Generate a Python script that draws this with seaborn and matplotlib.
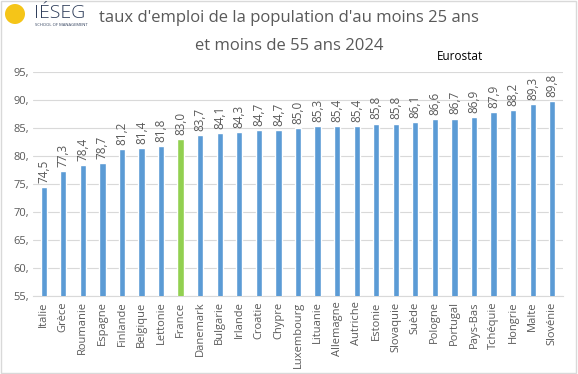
import matplotlib
matplotlib.use("Agg")
import matplotlib.pyplot as plt
import seaborn as sns
from matplotlib.patches import Ellipse, Rectangle

# data
countries = ["Italie", "Grèce", "Roumanie", "Espagne", "Finlande", "Belgique", "Lettonie",
             "France", "Danemark", "Bulgarie", "Irlande", "Croatie", "Chypre", "Luxembourg",
             "Lituanie", "Allemagne", "Autriche", "Estonie", "Slovaquie", "Suède", "Pologne",
             "Portugal", "Pays-Bas", "Tchéquie", "Hongrie", "Malte", "Slovénie"]
values = [74.5, 77.3, 78.4, 78.7, 81.2, 81.4, 81.8, 83.0, 83.7, 84.1, 84.3, 84.7, 84.7, 85.0,
          85.3, 85.4, 85.4, 85.8, 85.8, 86.1, 86.6, 86.7, 86.9, 87.9, 88.2, 89.3, 89.8]
yticks = [55, 60, 65, 70, 75, 80, 85, 90, 95]

blue = "#5B9BD5"
green = "#92D050"
grey = "#595959"

sns.set_style("white")
plt.rcParams["font.family"] = ["Open Sans", "DejaVu Sans"]

fig = plt.figure(figsize=(5.78, 3.74), dpi=100)
ax = fig.add_axes([0.057, 0.209, 0.917, 0.598])

colors = [green if c == "France" else blue for c in countries]
sns.barplot(x=countries, y=values, hue=countries, palette=colors, legend=False,
            width=0.32, saturation=1, ax=ax, zorder=3)

for cont in ax.containers:
    ax.bar_label(cont, labels=[f"{v:.1f}".replace(".", ",") for v in cont.datavalues],
                 rotation=90, padding=3, fontsize=8.5, color=grey)

ax.set_ylim(55, 95)
ax.set_xlim(-0.55, len(countries) - 0.45)
ax.set_yticks(yticks)
ax.set_yticklabels([f"{t}," for t in yticks], fontsize=8, color=grey)
ax.tick_params(axis="x", rotation=90, labelsize=8, labelcolor=grey, length=0, pad=4)
ax.tick_params(axis="y", length=0, pad=3)
ax.grid(axis="y", color="#D9D9D9", linewidth=0.8, zorder=0)
for s in ["top", "right", "left"]:
    ax.spines[s].set_visible(False)
ax.spines["bottom"].set_color("#D9D9D9")

# title and source
fig.text(0.50, 0.952, "taux d'emploi de la population d'au moins 25 ans",
         ha="center", va="center", fontsize=12, color=grey)
fig.text(0.50, 0.877, "et moins de 55 ans 2024",
         ha="center", va="center", fontsize=12, color=grey)
fig.text(0.755, 0.848, "Eurostat", ha="left", va="center", fontsize=8.5, color="black")

# logo
fig.patches.append(Ellipse((15 / 578, 1 - 14 / 374), 20 / 578, 20 / 374,
                           transform=fig.transFigure, facecolor="#F5C518", edgecolor="none"))
fig.text(34 / 578, 1 - 13 / 374, "IÉSEG", ha="left", va="center", fontsize=14,
         color="#2E3D5A", fontweight="light")
fig.text(35 / 578, 1 - 25 / 374, "SCHOOL OF MANAGEMENT", ha="left", va="center",
         fontsize=3, color="#2E3D5A")

# frame
fig.patches.append(Rectangle((0.002, 0.003), 0.995, 0.994, transform=fig.transFigure,
                             fill=False, edgecolor="#D9D9D9", linewidth=1))

plt.savefig("out.png", dpi=100)
